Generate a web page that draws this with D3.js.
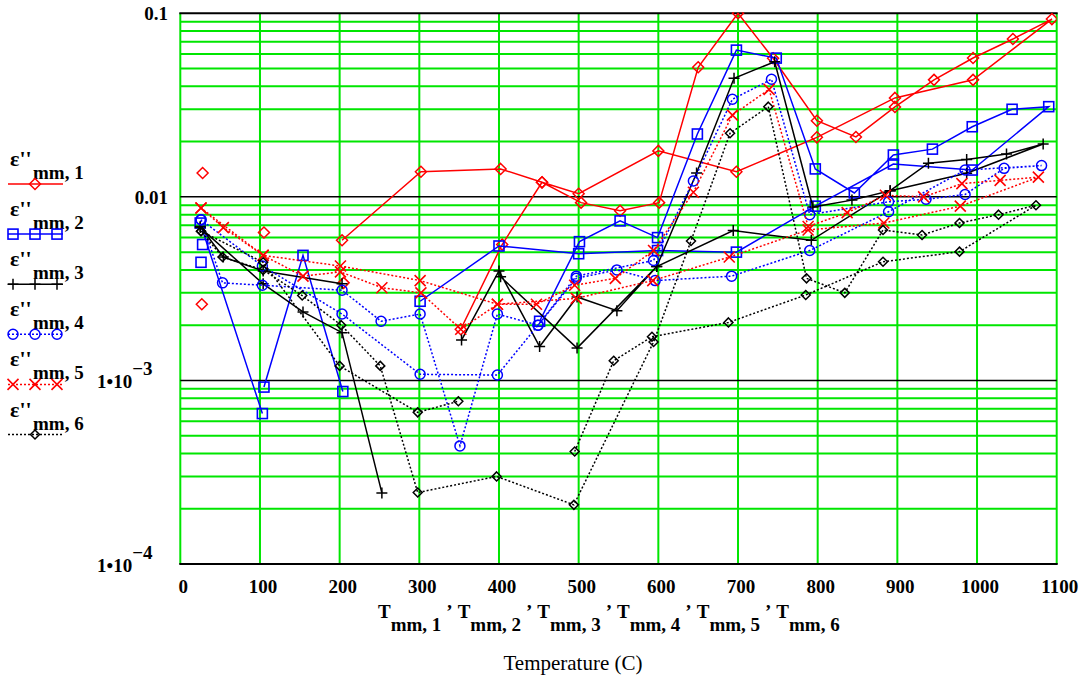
<!DOCTYPE html>
<html><head><meta charset="utf-8">
<script src="https://cdn.jsdelivr.net/npm/d3@7"></script>
<style>body{margin:0;background:#fff}svg{display:block}</style>
</head><body><svg id="c" width="1086" height="680"></svg>
<script>
// ---- data (null = break in trace) ----
const T1 = [28,null,27,null,105,null,205,null,203,302,402,454,500,600,698,799,897,995,1094,1045,995,946,897,848,799,744,700,650,601,552,503,454,404,352];
const E1 = [0.0135,null,0.0026,null,0.0064,null,0.0034,null,0.0058,0.0137,0.0142,0.012,0.0104,0.0178,0.0137,0.0211,0.0346,0.0434,0.093,0.0724,0.0571,0.0434,0.0309,0.0212,0.026,0.0569,0.1,0.0508,0.0093,0.0084,0.0093,0.012,0.0055,0.0019];
const T2 = [25,103,null,26,null,28,null,105,154,204,null,301,400,500,599,698,797,895,994,1090,1044,994,944,895,846,797,748,698,649,599,552,501,451];
const E2 = [0.0072,0.00066,null,0.0044,null,0.0055,null,0.00092,0.0048,0.00087,null,0.0027,0.0054,0.0049,0.0051,0.005,0.0089,0.0151,0.014,0.031,0.030,0.0241,0.0182,0.0169,0.0105,0.0142,0.057,0.063,0.022,0.006,0.0074,0.0057,0.0021];
const T3 = [25,54,104,203,null,25,104,154,203,253,null,353,400,451,498,548,598,694,792,891,939,987,1037,1083,987,891,843,794,746,695,648,598,498,402];
const E3 = [0.0069,0.0047,0.00395,0.00336,null,0.0068,0.00336,0.00236,0.00182,0.000244,null,0.00166,0.00395,0.00153,0.00285,0.0024,0.00417,0.00655,0.0058,0.0108,0.01525,0.016,0.0171,0.0194,0.01345,0.0108,0.0096,0.0088,0.0545,0.0443,0.0135,0.00417,0.0015,0.00367];
const T4 = [26,53,103,203,252,301,351,398,449,497,548,596,692,790,889,985,1081,1034,985,936,889,790,742,693,644,594,497,449,398,301,203,103,26];
const E4 = [0.0075,0.0034,0.0033,0.0031,0.0021,0.0023,0.00044,0.0023,0.002,0.0036,0.004,0.0035,0.0037,0.0051,0.0083,0.014,0.0148,0.0143,0.0103,0.0097,0.0094,0.008,0.0437,0.034,0.0122,0.0045,0.0037,0.002,0.00107,0.00108,0.0023,0.0042,0.0075];
const T5 = [26,54,104,201,301,398,497,593,689,788,883,979,1077,1029,981,933,885,837,788,739,693,644,594,546,495,447,398,352,302,253,201,154,104,26];
const E5 = [0.0087,0.0068,0.0048,0.0042,0.0035,0.0026,0.0028,0.0035,0.0047,0.0066,0.0072,0.0089,0.0128,0.0123,0.0118,0.01,0.0102,0.0082,0.0069,0.0385,0.0279,0.0106,0.0051,0.0036,0.0033,0.0026,0.0026,0.0019,0.003,0.0032,0.0039,0.0037,0.0048,0.0087];
const T6 = [26,104,200,298,349,null,495,544,592,688,785,882,978,1074,1027,978,931,882,834,786,738,690,641,594,494,397,298,251,202,153,104,53,26];
const E6 = [0.0065,0.0044,0.0012,0.00067,0.00077,null,0.00041,0.00128,0.00173,0.00207,0.00292,0.00443,0.00503,0.009,0.008,0.0072,0.0062,0.0066,0.003,0.0036,0.031,0.0222,0.00575,0.00162,0.00021,0.0003,0.000245,0.0012,0.002,0.0029,0.004,0.0047,0.0065];

const xTicks = [0,100,200,300,400,500,600,700,800,900,1000,1100];
const seriesIdx = ["1","2","3","4","5","6"];

// ---- style ----
const styles = [
  {T:T1,E:E1,color:"#ff0000",dash:null,sym:"diamond",size:5.5},
  {T:T2,E:E2,color:"#0000ff",dash:null,sym:"square",size:5},
  {T:T3,E:E3,color:"#000000",dash:null,sym:"plus",size:5.5},
  {T:T4,E:E4,color:"#0000ff",dash:"2,2",sym:"circle",size:5},
  {T:T5,E:E5,color:"#ff0000",dash:"2,2",sym:"x",size:5.5},
  {T:T6,E:E6,color:"#000000",dash:"2,2",sym:"diamond",size:4.5}
];
const GREEN = "#00e600";
const svg = d3.select("#c");
const x = d3.scaleLinear().domain([0,1100]).range([180.3,1056.7]);
const y = d3.scaleLog().domain([1e-4,0.1]).range([564,13.3]);

// grid
const g = svg.append("g");
xTicks.forEach(t => g.append("line").attr("x1",x(t)).attr("x2",x(t)).attr("y1",y(0.1)).attr("y2",y(1e-4))
  .attr("stroke",GREEN).attr("stroke-width",2));
[1e-4,1e-3,1e-2].forEach(d => { for(let k=2;k<=9;k++){ const v=k*d;
  g.append("line").attr("x1",x(0)).attr("x2",x(1100)).attr("y1",y(v)).attr("y2",y(v)).attr("stroke",GREEN).attr("stroke-width",2);} });
[1e-3,1e-2].forEach(v => g.append("line").attr("x1",x(0)).attr("x2",x(1100)).attr("y1",y(v)).attr("y2",y(v)).attr("stroke","#000").attr("stroke-width",1.5));
g.append("line").attr("x1",x(0)-1).attr("x2",x(1100)+1).attr("y1",y(0.1)).attr("y2",y(0.1)).attr("stroke","#000").attr("stroke-width",2);
g.append("line").attr("x1",x(0)-1).attr("x2",x(1100)+1).attr("y1",y(1e-4)).attr("y2",y(1e-4)).attr("stroke","#000").attr("stroke-width",2);

// clip
svg.append("clipPath").attr("id","pc").append("rect").attr("x",x(0)).attr("y",y(0.1)-1).attr("width",x(1100)-x(0)).attr("height",y(1e-4)-y(0.1)+1);

function marker(sel, sym, cx, cy, s, color){
  if(sym==="diamond") sel.append("path").attr("d",`M${cx},${cy-s}L${cx+s},${cy}L${cx},${cy+s}L${cx-s},${cy}Z`).attr("fill","none").attr("stroke",color).attr("stroke-width",1.5);
  else if(sym==="square") sel.append("rect").attr("x",cx-s).attr("y",cy-s).attr("width",2*s).attr("height",2*s).attr("fill","none").attr("stroke",color).attr("stroke-width",1.6);
  else if(sym==="circle") sel.append("circle").attr("cx",cx).attr("cy",cy).attr("r",s).attr("fill","none").attr("stroke",color).attr("stroke-width",1.5);
  else if(sym==="plus") sel.append("path").attr("d",`M${cx-s},${cy}H${cx+s}M${cx},${cy-s}V${cy+s}`).attr("stroke",color).attr("stroke-width",1.5);
  else if(sym==="x") sel.append("path").attr("d",`M${cx-s},${cy-s}L${cx+s},${cy+s}M${cx-s},${cy+s}L${cx+s},${cy-s}`).attr("stroke",color).attr("stroke-width",1.6);
}

const plot = svg.append("g").attr("clip-path","url(#pc)");
styles.forEach(st => {
  const pts = st.T.map((t,i)=>({t:t,v:st.E[i]}));
  const line = d3.line().defined(d=>d.t!=null && d.v!=null).x(d=>x(d.t)).y(d=>y(d.v));
  plot.append("path").attr("d",line(pts)).attr("fill","none").attr("stroke",st.color).attr("stroke-width",1.5)
    .attr("stroke-dasharray",st.dash);
  const mg = plot.append("g");
  pts.filter(d=>d.t!=null&&d.v!=null).forEach(d=>marker(mg,st.sym,x(d.t),y(d.v),st.size,st.color));
});

// axis tick labels
const FONT = "'Liberation Serif','Times New Roman',serif";
xTicks.forEach(t => svg.append("text").attr("x",x(t)+3).attr("y",593).attr("text-anchor","middle")
  .attr("font-family",FONT).attr("font-weight","bold").attr("font-size",19).text(t));
svg.append("text").attr("x",168).attr("y",y(0.1)+7).attr("text-anchor","end").attr("font-family",FONT).attr("font-weight","bold").attr("font-size",19).text("0.1");
svg.append("text").attr("x",168).attr("y",y(0.01)+7).attr("text-anchor","end").attr("font-family",FONT).attr("font-weight","bold").attr("font-size",19).text("0.01");
[[1e-3,"\u22123"],[1e-4,"\u22124"]].forEach(([v,e]) => {
  const tx = svg.append("text").attr("x",97).attr("y",y(v)+8).attr("font-family",FONT).attr("font-weight","bold").attr("font-size",19);
  tx.append("tspan").text("1\u202210");
  tx.append("tspan").attr("dy",-13).attr("font-size",19).text(e);
});

// x axis title with subscripts
const xt = svg.append("text").attr("x",378).attr("y",618).attr("font-family",FONT).attr("font-weight","bold").attr("font-size",19);
seriesIdx.forEach((k,i) => {
  xt.append("tspan").attr("dx", i===0?0:5).text("T");
  xt.append("tspan").attr("dy",13).text("mm, "+k);
  if(i<5) xt.append("tspan").attr("dy",-13).attr("dx",5).text("\u2019");
});
svg.append("text").attr("x",573).attr("y",670).attr("text-anchor","middle").attr("font-family",FONT).attr("font-size",21).text("Temperature (C)");

// legend
styles.forEach((st,i) => {
  const by = 184 + 50.1*i;
  const t = svg.append("text").attr("x",10).attr("y",by-18).attr("font-family",FONT).attr("font-weight","bold").attr("font-size",22);
  t.append("tspan").text("\u03b5''");
  t.append("tspan").attr("x",33).attr("dy",13).attr("font-size",19).text("mm, "+seriesIdx[i]);
  svg.append("line").attr("x1",8).attr("x2",63).attr("y1",by).attr("y2",by).attr("stroke",st.color).attr("stroke-width",1.5).attr("stroke-dasharray",st.dash);
  const pos = (i===0||i===5)?[35]:[13,35,57];
  pos.forEach(px => marker(svg,st.sym,px,by,st.size,st.color));
});
</script></body></html>
